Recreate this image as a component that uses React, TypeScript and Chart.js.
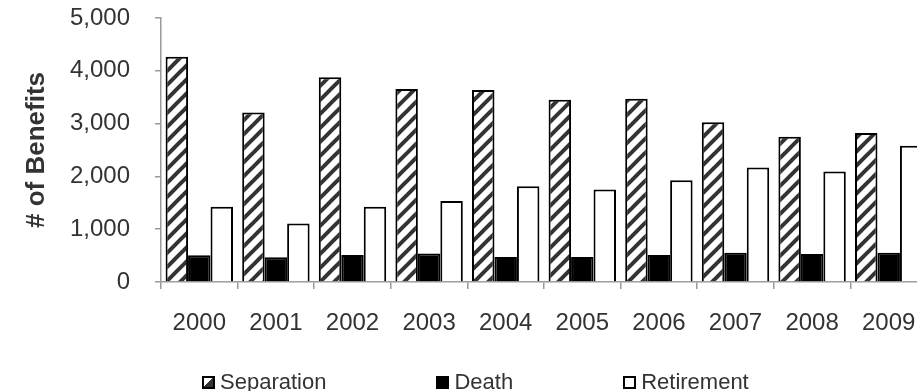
import React, { useEffect, useRef } from 'react';
import { Chart, registerables } from 'chart.js';

Chart.register(...registerables);

const categories = ['2000', '2001', '2002', '2003', '2004', '2005', '2006', '2007', '2008', '2009'];
const separation = [4265, 3210, 3880, 3655, 3635, 3450, 3470, 3025, 2750, 2820];
const death = [505, 470, 510, 540, 475, 475, 510, 555, 530, 555];
const retirement = [1425, 1110, 1425, 1535, 1815, 1750, 1925, 2170, 2095, 2580];
const seriesNames = ['Separation', 'Death', 'Retirement'];
const yTickLabels = ['0', '1,000', '2,000', '3,000', '4,000', '5,000'];
const yMax = 5000;
const yStep = 1000;
const yTitle = '# of Benefits';

const FONT = '"Liberation Sans", Arial, sans-serif';

function makeHatch(ctx: CanvasRenderingContext2D): CanvasPattern | string {
  const s = 14;
  const tile = document.createElement('canvas');
  tile.width = s;
  tile.height = s;
  const g = tile.getContext('2d');
  if (!g) return '#888';
  g.fillStyle = '#fff';
  g.fillRect(0, 0, s, s);
  g.strokeStyle = '#333';
  g.lineWidth = 4;
  for (const c of [0, s, 2 * s]) {
    g.beginPath();
    g.moveTo(-2, c + 2);
    g.lineTo(c + 2, -2);
    g.stroke();
  }
  return ctx.createPattern(tile, 'repeat') || '#888';
}

export default function App() {
  const ref = useRef<HTMLCanvasElement | null>(null);

  useEffect(() => {
    const canvas = ref.current;
    if (!canvas) return;
    const ctx = canvas.getContext('2d');
    if (!ctx) return;
    const hatch = makeHatch(ctx);
    const chart = new Chart(canvas, {
      type: 'bar',
      data: {
        labels: categories,
        datasets: [
          { label: seriesNames[0], data: separation, backgroundColor: hatch as any, borderColor: '#000', borderWidth: 2, categoryPercentage: 0.88, barPercentage: 1 },
          { label: seriesNames[1], data: death, backgroundColor: '#000', borderColor: '#000', borderWidth: 2, categoryPercentage: 0.88, barPercentage: 1 },
          { label: seriesNames[2], data: retirement, backgroundColor: '#fff', borderColor: '#000', borderWidth: 2, categoryPercentage: 0.88, barPercentage: 1 },
        ],
      },
      options: {
        responsive: false,
        animation: false,
        devicePixelRatio: 1,
        layout: { padding: { left: 0, right: 13, top: 18, bottom: 0 } },
        plugins: { legend: { display: false }, tooltip: { enabled: false } },
        scales: {
          x: {
            afterFit: (s: any) => { s.height = 109; },
            grid: { display: true, drawOnChartArea: false, drawTicks: true, tickLength: 7, color: '#9a9a9a', offset: true, lineWidth: 1.5 },
            border: { color: '#9a9a9a', width: 1.5 },
            ticks: { font: { family: FONT, size: 24 }, color: '#333', padding: 20, autoSkip: false, maxRotation: 0 },
          },
          y: {
            min: 0,
            max: yMax,
            afterFit: (s: any) => { s.width = 161; s.paddingTop = 0; s.paddingBottom = 0; },
            grid: { display: true, drawOnChartArea: false, drawTicks: true, tickLength: 6, color: '#9a9a9a', lineWidth: 1.5 },
            border: { color: '#9a9a9a', width: 1.5 },
            ticks: {
              stepSize: yStep,
              font: { family: FONT, size: 24 },
              color: '#333',
              padding: 25,
              callback: (_v: any, i: number) => yTickLabels[i],
            },
            title: {
              display: true,
              text: yTitle,
              font: { family: FONT, size: 26, weight: 'bold' },
              color: '#333',
              padding: { top: 21, bottom: 0 },
            },
          },
        },
      },
    });
    return () => chart.destroy();
  }, []);

  const swatch = (bg: string) => ({
    display: 'inline-block',
    width: 13,
    height: 13,
    boxSizing: 'border-box' as const,
    border: '2px solid #000',
    background: bg,
    marginRight: 5,
  });

  const swatchBgs = ['linear-gradient(to top left, #333 50%, #fff 50%)', '#000', '#fff'];

  return (
    <div style={{ position: 'fixed', left: 0, top: 0, width: 917, height: 391, overflow: 'hidden', background: '#fff' }}>
      <canvas ref={ref} width={940} height={391} style={{ display: 'block', width: 940, height: 391 }} />
      <div
        style={{
          position: 'absolute',
          left: 202,
          top: 371,
          display: 'flex',
          gap: 110,
          fontFamily: FONT,
          fontSize: 22,
          lineHeight: '22px',
          color: '#333',
          whiteSpace: 'nowrap',
        }}
      >
        {seriesNames.map((n, i) => (
          <div key={n} style={{ display: 'flex', alignItems: 'center' }}>
            <span style={swatch(swatchBgs[i])} />
            <span>{n}</span>
          </div>
        ))}
      </div>
    </div>
  );
}
